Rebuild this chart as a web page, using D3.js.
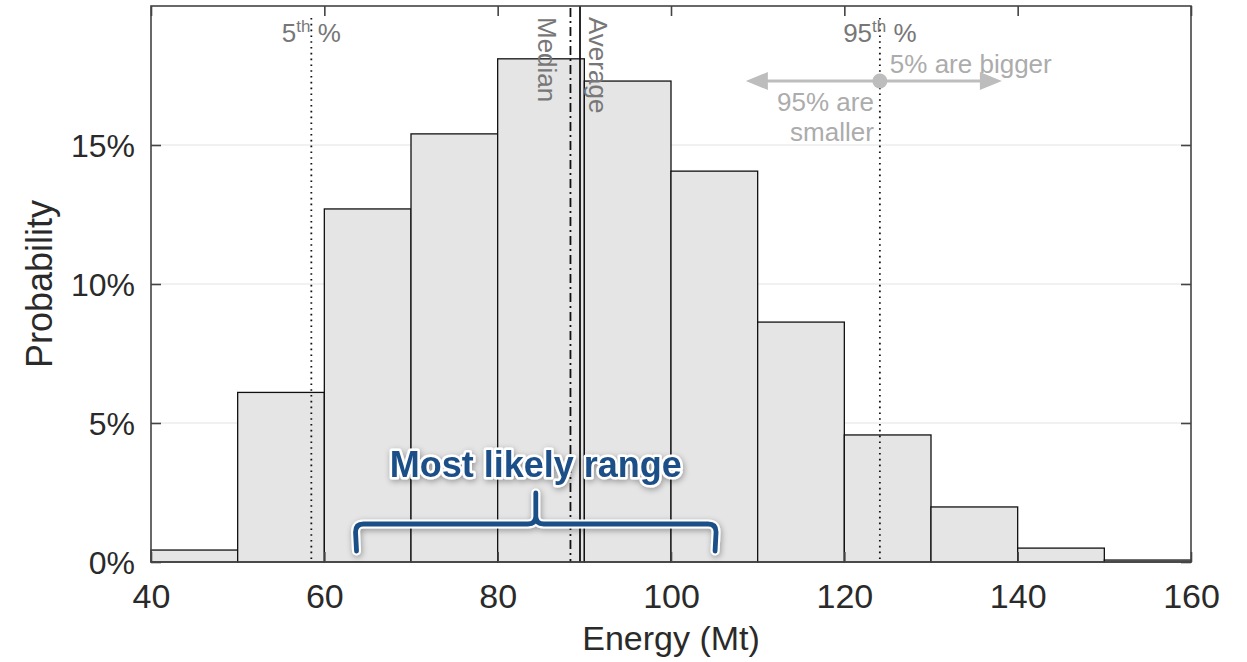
<!DOCTYPE html>
<html>
<head>
<meta charset="utf-8">
<script src="https://cdn.jsdelivr.net/npm/d3@7"></script>
<style>
  html, body { margin: 0; padding: 0; background: #fff; }
  svg { display: block; font-family: "Liberation Sans", Arial, Helvetica, sans-serif; }
</style>
</head>
<body>
<svg id="chart" width="1247" height="662"></svg>
<script>
// Histogram bins (Mt) and probability of each bin (%)
const binEdges = [40, 50, 60, 70, 80, 90, 100, 110, 120, 130, 140, 150, 160];
const binProb = [0.43, 6.1, 12.7, 15.4, 18.1, 17.3, 14.06, 8.63, 4.57, 1.98, 0.5, 0.07];

const xTicks = [40, 60, 80, 100, 120, 140, 160];
const yTicks = [0, 5, 10, 15];

// Summary statistics (Mt)
const pct5 = 58.5;
const median = 88.4;
const average = 89.5;
const pct95 = 124.1;

// Most likely range bracket (Mt)
const likelyRange = [63.6, 105.2];

const svg = d3.select("#chart");
const margin = { left: 151, right: 56, top: 6, bottom: 100 };
const W = 1247, H = 662;

const x = d3.scaleLinear().domain([40, 160]).range([margin.left, W - margin.right]);
const y = d3.scaleLinear().domain([0, 20]).range([H - margin.bottom, margin.top]);

const defs = svg.append("defs");
const glow = defs.append("filter").attr("id", "glow")
  .attr("x", "-20%").attr("y", "-40%").attr("width", "140%").attr("height", "180%");
glow.append("feGaussianBlur").attr("in", "SourceAlpha").attr("stdDeviation", 3).attr("result", "b");
glow.append("feOffset").attr("in", "b").attr("dx", 1).attr("dy", 2).attr("result", "o");
glow.append("feComponentTransfer").attr("in", "o").attr("result", "s")
  .append("feFuncA").attr("type", "linear").attr("slope", 0.35);
const m = glow.append("feMerge");
m.append("feMergeNode").attr("in", "s");
m.append("feMergeNode").attr("in", "SourceGraphic");

// Plot background
svg.append("rect")
  .attr("x", x(40)).attr("y", y(20))
  .attr("width", x(160) - x(40)).attr("height", y(0) - y(20))
  .attr("fill", "#fff");

// Horizontal grid
svg.append("g").selectAll("line").data(yTicks.filter(d => d > 0)).join("line")
  .attr("x1", x(40)).attr("x2", x(160))
  .attr("y1", d => y(d)).attr("y2", d => y(d))
  .attr("stroke", "#e3e3e3").attr("stroke-width", 1.2);

// Bars
const bins = binProb.map((p, i) => ({ x0: binEdges[i], x1: binEdges[i + 1], p }));
svg.append("g").selectAll("rect").data(bins).join("rect")
  .attr("x", d => x(d.x0)).attr("y", d => y(d.p))
  .attr("width", d => x(d.x1) - x(d.x0)).attr("height", d => y(0) - y(d.p))
  .attr("fill", "#e5e5e5").attr("stroke", "#111").attr("stroke-width", 1.3);

// Percentile and central-value lines
function vline(v, dash, w, top) {
  svg.append("line")
    .attr("x1", x(v)).attr("x2", x(v)).attr("y1", top).attr("y2", y(0))
    .attr("stroke", "#111").attr("stroke-width", w)
    .attr("stroke-dasharray", dash);
}
vline(pct5, "1.6,4.2", 1.8, y(20) + 12);
vline(pct95, "1.6,4.2", 1.8, y(20) + 12);
vline(median, "9,4,2,4", 1.8, y(20) + 2);
vline(average, null, 1.8, y(20));

// Axes frame with inward ticks
svg.append("rect")
  .attr("x", x(40)).attr("y", y(20))
  .attr("width", x(160) - x(40)).attr("height", y(0) - y(20))
  .attr("fill", "none").attr("stroke", "#444").attr("stroke-width", 1.6);

const xAxis = svg.append("g").attr("transform", `translate(0,${y(0)})`)
  .call(d3.axisBottom(x).tickValues(xTicks).tickSize(-10).tickPadding(22).tickFormat(d3.format("d")));
const xAxisTop = svg.append("g").attr("transform", `translate(0,${y(20)})`)
  .call(d3.axisTop(x).tickValues(xTicks).tickSize(-10).tickFormat(""));
const yAxis = svg.append("g").attr("transform", `translate(${x(40)},0)`)
  .call(d3.axisLeft(y).tickValues(yTicks).tickSize(-10).tickPadding(16).tickFormat(d => d + "%"));
const yAxisRight = svg.append("g").attr("transform", `translate(${x(160)},0)`)
  .call(d3.axisRight(y).tickValues(yTicks).tickSize(-10).tickFormat(""));

[xAxis, xAxisTop, yAxis, yAxisRight].forEach(g => {
  g.select(".domain").remove();
  g.selectAll(".tick line").attr("stroke", "#444").attr("stroke-width", 1.6);
  g.selectAll(".tick text").attr("fill", "#2a2a2a")
    .attr("font-family", "\"Liberation Sans\", Arial, sans-serif");
});
xAxis.selectAll(".tick text").attr("font-size", 34);
yAxis.selectAll(".tick text").attr("font-size", 32).attr("dy", "0.36em");

// Axis titles
svg.append("text")
  .attr("x", (x(40) + x(160)) / 2).attr("y", 650)
  .attr("text-anchor", "middle").attr("font-size", 34).attr("fill", "#2a2a2a")
  .text("Energy (Mt)");
svg.append("text")
  .attr("transform", `translate(52,284) rotate(-90)`)
  .attr("text-anchor", "middle").attr("font-size", 36).attr("fill", "#2a2a2a")
  .text("Probability");

// Percentile labels, centred on their lines
function pctLabel(v, num) {
  const t = svg.append("text")
    .attr("x", x(v)).attr("y", 42)
    .attr("text-anchor", "middle").attr("font-size", 26).attr("fill", "#777");
  t.append("tspan").text(num);
  t.append("tspan").attr("font-size", 17).attr("dy", -10).text("th");
  t.append("tspan").attr("dy", 10).text(" %");
}
pctLabel(pct5, "5");
pctLabel(pct95, "95");

// Rotated labels for median and average
svg.append("text")
  .attr("transform", `translate(${x(median) - 32},17) rotate(90)`)
  .attr("font-size", 26).attr("fill", "#777").text("Median");
svg.append("text")
  .attr("transform", `translate(${x(average) + 9},17) rotate(90)`)
  .attr("font-size", 26).attr("fill", "#777").text("Average");

// 95th percentile explanation arrows
const arrowY = 81;
const lightGray = "#bdbdbd";
const ax0 = x(pct95) - 134, ax1 = x(pct95) + 122;
svg.append("line")
  .attr("x1", ax0 + 10).attr("x2", ax1 - 10).attr("y1", arrowY).attr("y2", arrowY)
  .attr("stroke", lightGray).attr("stroke-width", 3);
svg.append("path")
  .attr("d", `M${ax0},${arrowY} L${ax0 + 22},${arrowY - 9} L${ax0 + 22},${arrowY + 9} Z`)
  .attr("fill", lightGray);
svg.append("path")
  .attr("d", `M${ax1},${arrowY} L${ax1 - 22},${arrowY - 9} L${ax1 - 22},${arrowY + 9} Z`)
  .attr("fill", lightGray);
svg.append("circle").attr("cx", x(pct95)).attr("cy", arrowY).attr("r", 7.5).attr("fill", lightGray);

svg.append("text")
  .attr("x", x(pct95) + 10).attr("y", 73)
  .attr("font-size", 26).attr("fill", "#acacac").text("5% are bigger");
svg.append("text")
  .attr("x", x(pct95) - 6).attr("y", 111)
  .attr("text-anchor", "end").attr("font-size", 26).attr("fill", "#acacac").text("95% are");
svg.append("text")
  .attr("x", x(pct95) - 6).attr("y", 141)
  .attr("text-anchor", "end").attr("font-size", 26).attr("fill", "#acacac").text("smaller");

// Most likely range bracket
const blue = "#1b4f88";
const bx0 = x(likelyRange[0]), bx1 = x(likelyRange[1]);
const bm = (bx0 + bx1) / 2;
const by = 524, bBottom = 551, bTip = 493, r = 8;
const brace = `M${bx0 + 1},${bBottom} L${bx0},${by + r} Q${bx0},${by} ${bx0 + r},${by}
  L${bm - r},${by} Q${bm},${by} ${bm},${by - r} L${bm},${bTip}
  M${bm},${by - r} Q${bm},${by} ${bm + r},${by} L${bx1 - r},${by} Q${bx1},${by} ${bx1},${by + r} L${bx1 - 1},${bBottom}`;
svg.append("path").attr("d", brace)
  .attr("fill", "none").attr("stroke", "#fff").attr("stroke-width", 9)
  .attr("stroke-linecap", "round").attr("stroke-linejoin", "round").attr("filter", "url(#glow)");
svg.append("path").attr("d", brace)
  .attr("fill", "none").attr("stroke", blue).attr("stroke-width", 4.8)
  .attr("stroke-linecap", "round").attr("stroke-linejoin", "round");

svg.append("text")
  .attr("x", bm).attr("y", 477)
  .attr("text-anchor", "middle").attr("font-size", 36).attr("font-weight", "bold")
  .attr("fill", blue).attr("stroke", "#fff").attr("stroke-width", 5)
  .attr("stroke-linejoin", "round").attr("paint-order", "stroke")
  .attr("filter", "url(#glow)")
  .text("Most likely range");
</script>
</body>
</html>
